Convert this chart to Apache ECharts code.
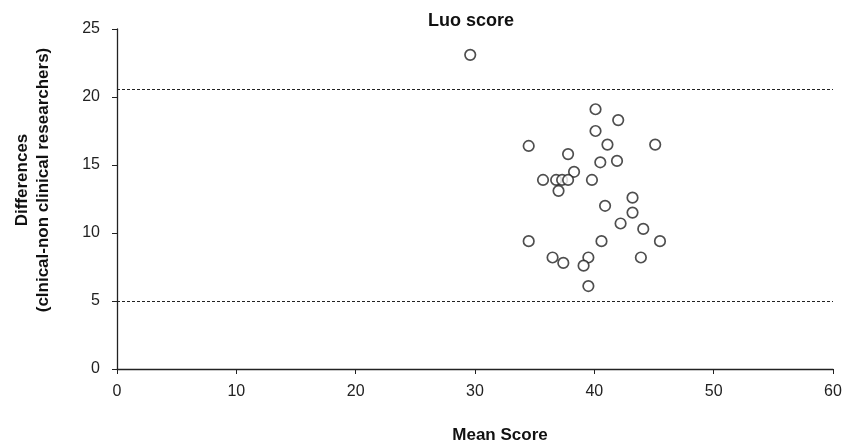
<!DOCTYPE html>
<html>
<head>
<meta charset="utf-8">
<script src="https://cdn.jsdelivr.net/npm/echarts@6/dist/echarts.min.js"></script>
<style>
  html, body { margin: 0; padding: 0; background: #fff; }
  #main { width: 844px; height: 445px; }
</style>
</head>
<body>
<div id="main"></div>
<script>
// mean of the two scores (x) and difference clinical - non clinical (y)
var meanScore = [29.6, 40.1, 42.0, 40.1, 34.5, 41.1, 45.1, 37.8, 40.5, 41.9, 38.3,
  35.7, 36.8, 37.3, 37.8, 39.8, 37.0, 43.2, 40.9, 43.2, 42.2, 44.1,
  34.5, 40.6, 45.5, 36.5, 37.4, 39.5, 39.1, 43.9, 39.5];
var difference = [23.1, 19.1, 18.3, 17.5, 16.4, 16.5, 16.5, 15.8, 15.2, 15.3, 14.5,
  13.9, 13.9, 13.9, 13.9, 13.9, 13.1, 12.6, 12.0, 11.5, 10.7, 10.3,
  9.4, 9.4, 9.4, 8.2, 7.8, 8.2, 7.6, 8.2, 6.1];
// limits of agreement
var upperLimit = 20.6;
var lowerLimit = 5.0;

var points = meanScore.map(function (m, i) {
  return [m, difference[i]];
});

var chart = echarts.init(document.getElementById('main'));
var font = "'Liberation Sans', Arial, sans-serif";

var option = {
  animation: false,
  title: {
    text: 'Luo score',
    left: 466,
    top: 7,
    textAlign: 'center',
    textStyle: { fontFamily: font, fontWeight: 'bold', fontSize: 18, color: '#111' }
  },
  grid: { left: 117, right: 11, top: 29, bottom: 76, outerBoundsMode: 'none' },
  xAxis: {
    type: 'value',
    min: 0,
    max: 60,
    interval: 10,
    name: 'Mean Score',
    nameLocation: 'middle',
    nameGap: 58,
    nameTextStyle: {
      fontFamily: font, fontWeight: 'bold', fontSize: 17, color: '#111',
      padding: [0, 0, 0, 50]
    },
    splitLine: { show: false },
    axisLine: { lineStyle: { color: '#222', width: 1.3 } },
    axisTick: { length: 5, lineStyle: { color: '#222' } },
    axisLabel: { fontFamily: font, fontSize: 16, color: '#222', margin: 15 }
  },
  yAxis: {
    type: 'value',
    min: 0,
    max: 25,
    interval: 5,
    splitLine: { show: false },
    axisLine: { show: true, lineStyle: { color: '#222', width: 1.3 } },
    axisTick: { show: true, length: 5, lineStyle: { color: '#222' } },
    axisLabel: { fontFamily: font, fontSize: 16, color: '#222', margin: 17 }
  },
  graphic: [{
    type: 'text',
    x: 33,
    y: 180,
    rotation: Math.PI / 2,
    style: {
      text: 'Differences\n(clnical-non clinical researchers)',
      font: 'bold 17px ' + font,
      fill: '#111',
      textAlign: 'center',
      textVerticalAlign: 'middle',
      lineHeight: 21
    }
  }],
  series: [{
    type: 'scatter',
    data: points,
    symbol: 'circle',
    symbolSize: 10.5,
    itemStyle: { color: '#fff', borderColor: '#222', borderWidth: 1.7 },
    markLine: {
      silent: true,
      symbol: 'none',
      label: { show: false },
      lineStyle: { color: '#222', type: [3, 2], width: 1 },
      data: [{ yAxis: upperLimit }, { yAxis: lowerLimit }]
    }
  }]
};

chart.setOption(option);
</script>
</body>
</html>
